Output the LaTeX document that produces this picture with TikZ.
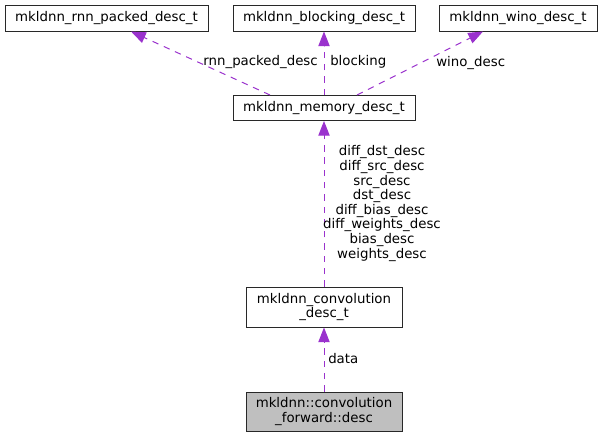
\documentclass[tikz,border=0pt]{standalone}
\usepackage{fontspec}
\setmainfont{DejaVu Sans}
\usetikzlibrary{arrows.meta}
\begin{document}
\begin{tikzpicture}[x=0.75pt,y=-0.75pt,>={Triangle[length=11pt,width=8.5pt]},
	cls/.style={draw={rgb,255:red,40;green,40;blue,40},line width=0.75pt,fill=white,inner sep=1pt,align=center,font=\fontsize{10}{11.2}\selectfont},
	usage/.style={->,color={rgb,255:red,154;green,50;blue,205},line width=0.75pt,dash pattern=on 4.8pt off 4.4pt},
	lbl/.style={inner sep=0pt,align=center,font=\fontsize{10}{10.95}\selectfont}]
	\useasboundingbox (0,0) rectangle (603,437);
	\node[cls,minimum width=152.25pt,minimum height=19.5pt] (rnn) at (106.5,18) {mkldnn\_rnn\_packed\_desc\_t};
	\node[cls,minimum width=136.5pt,minimum height=19.5pt] (blk) at (324,18) {mkldnn\_blocking\_desc\_t};
	\node[cls,minimum width=118.5pt,minimum height=19.5pt] (wino) at (518,18) {mkldnn\_wino\_desc\_t};
	\node[cls,minimum width=136.5pt,minimum height=18.75pt] (mem) at (324,108) {mkldnn\_memory\_desc\_t};
	\node[cls,minimum width=117pt,minimum height=30pt] (conv) at (324,307) {mkldnn\_convolution\\\_desc\_t};
	\node[cls,fill={rgb,255:red,191;green,191;blue,191},minimum width=117pt,minimum height=29.25pt] (fwd) at (324,411.5) {mkldnn::convolution\\\_forward::desc};
	\draw[usage] ([xshift=-40.5pt]mem.north) -- ([xshift=18.4pt]rnn.south);
	\draw[usage] (mem.north) -- (blk.south);
	\draw[usage] ([xshift=24.75pt]mem.north) -- ([xshift=-26.25pt]wino.south);
	\draw[usage] (conv.north) -- (mem.south);
	\draw[usage] (fwd.north) -- (conv.south);
	\node[lbl,anchor=east] (l1) at (318,62) {rnn\_packed\_desc};
	\node[lbl,anchor=west] (l2) at (330,62) {blocking};
	\node[lbl,anchor=west] (l3) at (436,63) {wino\_desc};
	\node[lbl] (l4) at (382,203.5) {diff\_dst\_desc\\diff\_src\_desc\\src\_desc\\dst\_desc\\diff\_bias\_desc\\diff\_weights\_desc\\bias\_desc\\weights\_desc};
	\node[lbl,anchor=west] (l5) at (328,359) {data};
\end{tikzpicture}
\end{document}
